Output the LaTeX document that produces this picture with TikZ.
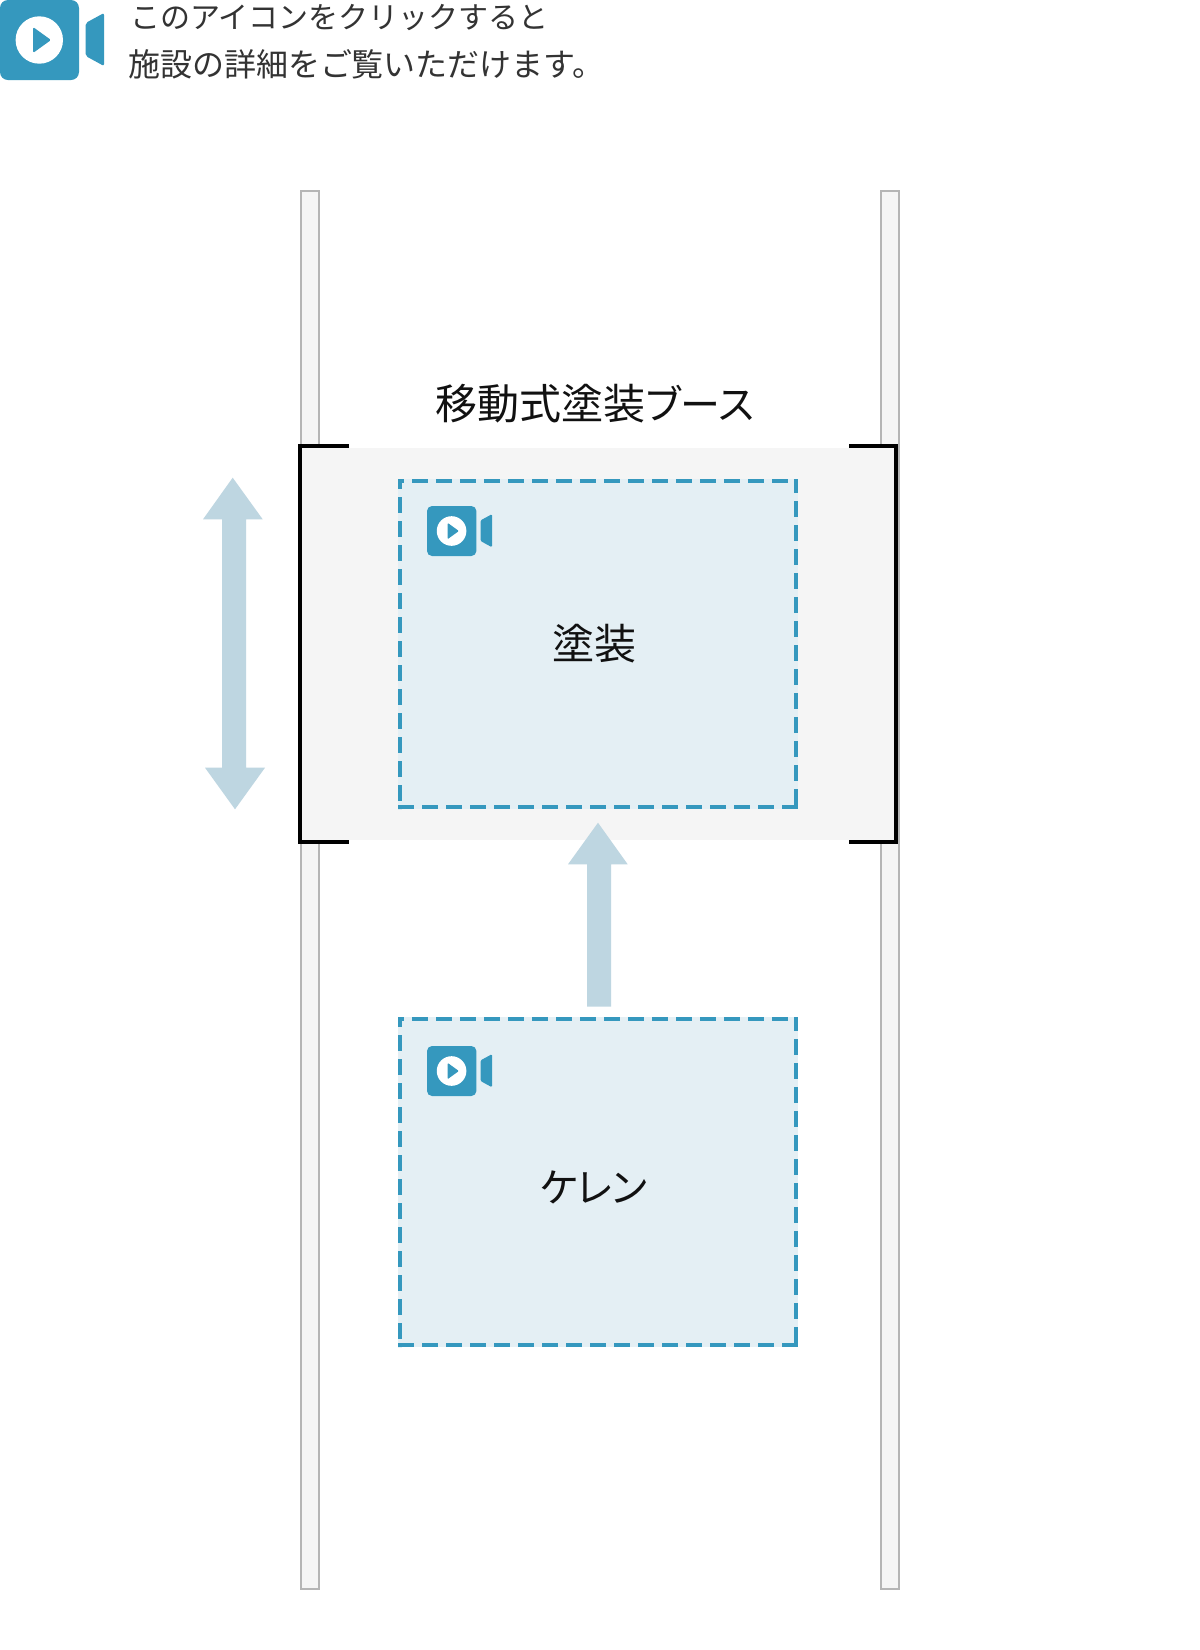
\documentclass[tikz,border=0pt]{standalone}
\usepackage{fontspec}
\setmainfont{Noto Sans CJK JP}
\newfontfamily\paltfont[RawFeature={+palt}]{Noto Sans CJK JP}
\definecolor{iconblue}{HTML}{3598BE}
\definecolor{boxfill}{HTML}{E4EFF4}
\definecolor{arrowblue}{HTML}{BED6E1}
\definecolor{boothgrey}{HTML}{F5F5F5}
\definecolor{railline}{HTML}{B5B5B5}
\definecolor{headtext}{HTML}{333333}
\definecolor{labeltext}{HTML}{111111}
\tikzset{
  railbar/.style={draw=railline,fill=boothgrey,line width=2pt,minimum width=18pt,minimum height=1398pt,inner sep=0pt,outer sep=0pt},
  boothbg/.style={fill=boothgrey,minimum width=594pt,minimum height=392pt,inner sep=0pt,outer sep=0pt},
  areabox/.style={fill=boxfill,minimum width=400pt,minimum height=330pt,inner sep=0pt,outer sep=0pt},
  dashedge/.style={draw=iconblue,line width=4pt,line cap=butt,dash pattern=on 16pt off 8pt},
  bracket/.style={draw=black,line width=4pt,miter limit=10},
  blockarrow/.style={fill=arrowblue},
  headtxtA/.style={font=\fontsize{30pt}{30pt}\selectfont,text=headtext,inner sep=0pt,outer sep=0pt,anchor=west,text height=26.4pt,text depth=3.6pt},
  headtxtB/.style={font=\fontsize{32pt}{32pt}\selectfont,text=headtext,inner sep=0pt,outer sep=0pt,anchor=west,text height=28.16pt,text depth=3.84pt},
  labeltxt/.style={font=\fontsize{42pt}{42pt}\selectfont,text=labeltext,inner sep=0pt,outer sep=0pt,text height=36.96pt,text depth=5.04pt},
}
\newcommand{\smallkana}[1]{{\paltfont\fontsize{40pt}{40pt}\selectfont #1}}
% video icon: reference size 104 x 80, origin at its top left corner
\newcommand{\videoicon}[3]{%
  \begin{scope}[shift={(#1,#2)},scale=#3]
    \fill[iconblue,rounded corners=8*#3] (0,0) rectangle (79,80);
    \fill[white] (39.3,40) circle (23.7);
    \fill[iconblue,rounded corners=1.5*#3] (33,27) -- (51,40) -- (33,53) -- cycle;
    \fill[iconblue,rounded corners=2*#3] (85.7,23) -- (104,13) -- (104,66) -- (85.7,56) -- cycle;
  \end{scope}}
\begin{document}
\begin{tikzpicture}[x=1pt,y=-1pt]
\useasboundingbox (0,0) rectangle (1200,1650);
\fill[white] (0,0) rectangle (1200,1650);
% legend
\videoicon{0}{0}{1}
\node[headtxtA] (legendA) at (130,17) {このアイコンをクリックすると};
\node[headtxtB] (legendB) at (128,64) {施設の詳細をご覧いただけます。};
% rails
\node[railbar] (railL) at (310,890) {};
\node[railbar] (railR) at (890,890) {};
% booth
\node[boothbg] (booth) at (598,644) {};
\draw[bracket] (349,446) -- (300,446) -- (300,842) -- (349,842);
\draw[bracket] (849,446) -- (896,446) -- (896,842) -- (849,842);
\node[labeltxt] (boothlabel) at (595,404) {移動式塗装\smallkana{ブース}};
% paint box
\node[areabox] (paint) at (598,644) {};
\draw[dashedge,dash phase=10pt] (398,481) -- (798,481);
\draw[dashedge,dash phase=2pt] (796,479) -- (796,809);
\draw[dashedge,dash phase=6pt] (400,479) -- (400,809);
\draw[dashedge] (398,807) -- (798,807);
\videoicon{427}{506}{0.625}
\node[labeltxt] (paintlabel) at (594,644) {塗装};
% clean box
\node[areabox] (clean) at (598,1182) {};
\draw[dashedge,dash phase=10pt] (398,1019) -- (798,1019);
\draw[dashedge,dash phase=2pt] (796,1017) -- (796,1347);
\draw[dashedge,dash phase=6pt] (400,1017) -- (400,1347);
\draw[dashedge] (398,1345) -- (798,1345);
\videoicon{427}{1046}{0.625}
\node[labeltxt] (cleanlabel) at (594,1187) {\smallkana{ケレン}};
% arrows
\fill[blockarrow] (232.7,477.7) -- (262.7,519.3) -- (246,519.3) -- (246,767.7) -- (265,767.7) -- (235,809.3) -- (205,767.7) -- (222,767.7) -- (222,519.3) -- (203,519.3) -- cycle;
\fill[blockarrow] (598,822.7) -- (627.7,864.3) -- (611,864.3) -- (611,1006.7) -- (587,1006.7) -- (587,864.3) -- (568,864.3) -- cycle;
\end{tikzpicture}
\end{document}
